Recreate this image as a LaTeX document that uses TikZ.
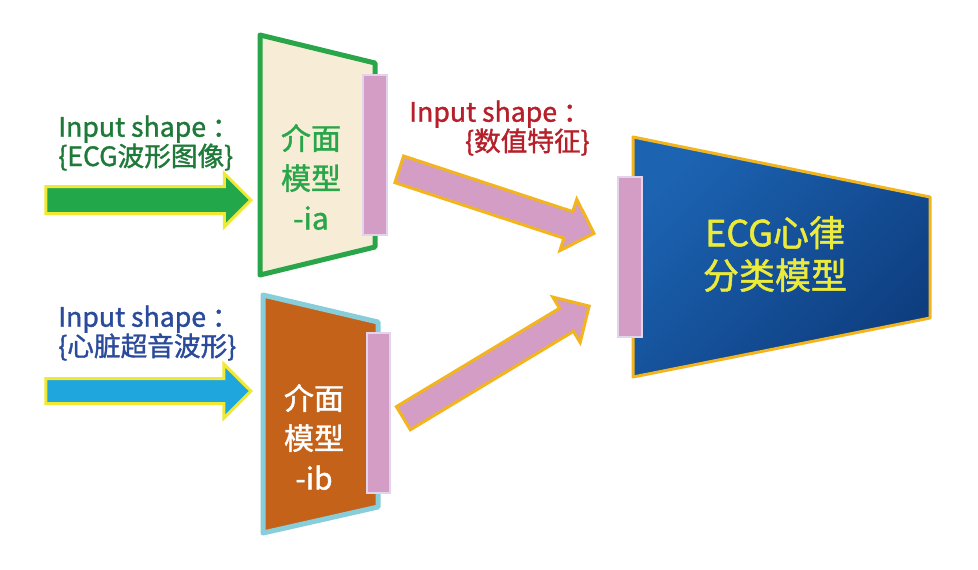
\documentclass[tikz,border=0pt]{standalone}
\usepackage{fontspec}
\setmainfont{Noto Sans CJK SC}[FakeBold=1.3]
\usetikzlibrary{shapes.arrows}
\def\px{0.75pt}
\definecolor{iagreen}{RGB}{42,166,74}
\definecolor{iafill}{RGB}{247,237,214}
\definecolor{ibline}{RGB}{136,206,218}
\definecolor{ibfill}{RGB}{196,98,26}
\definecolor{ecgtop}{RGB}{28,99,178}
\definecolor{ecgbot}{RGB}{14,62,128}
\definecolor{ecgline}{RGB}{242,181,30}
\definecolor{barfill}{RGB}{212,157,198}
\definecolor{barline}{RGB}{226,212,234}
\definecolor{arryellow}{RGB}{240,232,50}
\definecolor{arrgreen}{RGB}{35,167,75}
\definecolor{arrblue}{RGB}{31,167,221}
\definecolor{lblgreen}{RGB}{31,122,58}
\definecolor{lblblue}{RGB}{42,75,155}
\definecolor{lblred}{RGB}{181,32,42}
\definecolor{ecgtext}{RGB}{237,235,58}
\tikzset{
  featbar/.style={fill=barfill, draw=barline, line width=2.5*\px},
  fatarrow/.style={single arrow, inner sep=0pt, single arrow tip angle=90,
    line join=miter},
  inarrow/.style={fatarrow, draw=arryellow, line width=3*\px},
  featarrow/.style={fatarrow, fill=barfill, draw=ecgline, line width=3*\px},
  lbl/.style={font=\fontsize{20}{22}\selectfont, inner sep=0pt},
  mtext/.style={font=\fontsize{22.5}{30}\selectfont, align=center, inner sep=0pt}
}
\begin{document}
\begin{tikzpicture}[x=0.75pt, y=-0.75pt]
			%%%%% START %%%%%
			\fill[white] (0, 0) rectangle (978, 569);
			\useasboundingbox (0, 0) rectangle (978, 569);
			
			% model ia
			\draw[fill=iafill, draw=iagreen, line width=5*\px, line join=round] (260, 35) -- (375, 63) -- (375, 247) -- (260, 275) -- cycle;
			\draw[featbar] (363, 75) rectangle (387, 235);
			\node[mtext, text=iagreen] (ia) at (311, 177) {介面\\模型\\-ia};
			
			% model ib
			\draw[fill=ibfill, draw=ibline, line width=5*\px, line join=round] (263, 295) -- (378, 322) -- (378, 507) -- (263, 533) -- cycle;
			\draw[featbar] (367, 333) rectangle (390, 493);
			\node[mtext, text=white] (ib) at (314, 437) {介面\\模型\\-ib};
			
			% classifier
			\shade[left color=ecgtop, right color=ecgbot, shading angle=45] (633, 137) -- (930, 197) -- (930, 318) -- (633, 377) -- cycle;
			\draw[draw=ecgline, line width=3*\px, line join=round] (633, 137) -- (930, 197) -- (930, 318) -- (633, 377) -- cycle;
			\draw[featbar] (618, 177) rectangle (642, 337);
			\node[font=\fontsize{27}{32}\selectfont, align=center, text=ecgtext, inner sep=0pt] (ecg) at (775, 254) {ECG心律\\分类模型};
			
			% input arrows
			\node[inarrow, fill=arrgreen, minimum height=205*\px, minimum width=50*\px, text height=12*\px, text depth=12*\px, single arrow head extend=13*\px, anchor=tip] (ina) at (253, 200) {};
			\node[inarrow, fill=arrblue, minimum height=205*\px, minimum width=51*\px, text height=11*\px, text depth=11*\px, single arrow head extend=14.5*\px, anchor=tip] (inb) at (253, 391) {};
			
			% feature arrows
			\node[featarrow, rotate=-18.2, minimum height=205*\px, minimum width=51*\px, text height=12.5*\px, text depth=12.5*\px, single arrow head extend=13*\px, anchor=tip] (fa) at (596, 234) {};
			\node[featarrow, rotate=31.1, minimum height=217*\px, minimum width=50*\px, text height=12*\px, text depth=12*\px, single arrow head extend=13*\px, anchor=tip] (fb) at (591, 305) {};
			
			% labels
			\node[lbl, text=lblgreen, anchor=west, align=left] (lbla) at (58, 143) {Input shape ：\\\{ECG波形图像\}};
			\node[lbl, text=lblblue, anchor=west, align=left] (lblb) at (58, 333) {Input shape ：\\\{心脏超音波形\}};
			\node[lbl, text=lblred, anchor=east, align=right] (lblf) at (590, 128) {Input shape ：\\\{数值特征\}};
			
			%%%%% END %%%%%
		\end{tikzpicture}
\end{document}
